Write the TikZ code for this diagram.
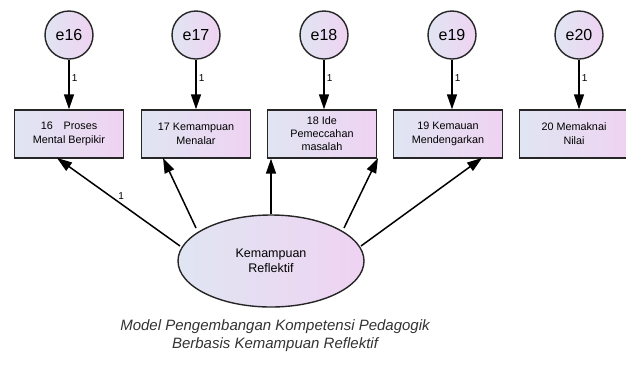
\documentclass[tikz,border=0pt]{standalone}
\usepackage{fontspec}
\setmainfont{Liberation Sans}
\usetikzlibrary{arrows.meta,shapes.geometric}
\definecolor{boxleft}{HTML}{E0E5F2}
\definecolor{boxright}{HTML}{EFD3F2}
\definecolor{captiongray}{HTML}{333333}
\tikzset{
  errvar/.style={circle, draw=black!85, line width=1.4pt, minimum size=48pt, inner sep=0pt,
    left color=boxleft, right color=boxright, font=\fontsize{16}{18}\selectfont},
  indicator/.style={rectangle, draw=black!85, line width=1.4pt, minimum width=109pt, minimum height=48pt,
    inner sep=1pt, align=center, left color=boxleft, right color=boxright,
    font=\fontsize{10.8}{14}\selectfont},
  latent/.style={ellipse, draw=black!85, line width=1.4pt, minimum width=186pt, minimum height=92pt,
    inner sep=0pt, align=center, left color=boxleft, right color=boxright,
    font=\fontsize{12.5}{15}\selectfont},
  path/.style={draw=black, line width=1.5pt, -{Triangle[length=15pt,width=10pt]}},
  weight/.style={font=\fontsize{10}{11}\selectfont, inner sep=2pt}
}
\begin{document}
\begin{tikzpicture}[x=1pt,y=-1pt]
\useasboundingbox[fill=white] (0,0) rectangle (626,365);

% error terms
\node[errvar] (e16) at (69,35) {e16};
\node[errvar] (e17) at (196,35) {e17};
\node[errvar] (e18) at (324,35) {e18};
\node[errvar] (e19) at (452,35) {e19};
\node[errvar] (e20) at (579,35) {e20};

% observed indicators
\node[indicator] (v16) at (69,134) {16\hspace{1em}Proses\\Mental Berpikir};
\node[indicator] (v17) at (196,134) {17 Kemampuan\\Menalar};
\node[indicator, font=\fontsize{10.8}{13}\selectfont] (v18) at (322,134) {18 Ide\\Pemeccahan\\masalah};
\node[indicator] (v19) at (448,134) {19 Kemauan\\Mendengarkan};
\node[indicator] (v20) at (574,134) {20 Memaknai\\Nilai};

% latent construct
\node[latent] (kr) at (271,261) {Kemampuan\\Reflektif};

% error paths
\foreach \i in {16,17,18,19,20}{
  \draw[path] (e\i) -- node[weight, right, pos=0.38] {1} (e\i |- v\i.north);
}

% loadings
\coordinate (k16) at (180,246);
\coordinate (k17) at (196,228);
\coordinate (k19) at (344,228);
\coordinate (k20) at (361,246);
\coordinate (t16) at (57,158);
\coordinate (t17) at (163,158);
\coordinate (t19) at (378,158);
\coordinate (t20) at (482,158);
\draw[path] (k16) -- node[weight, pos=0.5, above right, xshift=-3pt] {1} (t16);
\draw[path] (k17) -- (t17);
\draw[path] (kr.north) -- (kr.north |- v18.south);
\draw[path] (k19) -- (t19);
\draw[path] (k20) -- (t20);

% caption
\node[font=\itshape\fontsize{15}{18}\selectfont, text=captiongray, align=center] (cap) at (275,336)
  {Model Pengembangan Kompetensi Pedagogik\\Berbasis Kemampuan Reflektif};
\end{tikzpicture}
\end{document}
